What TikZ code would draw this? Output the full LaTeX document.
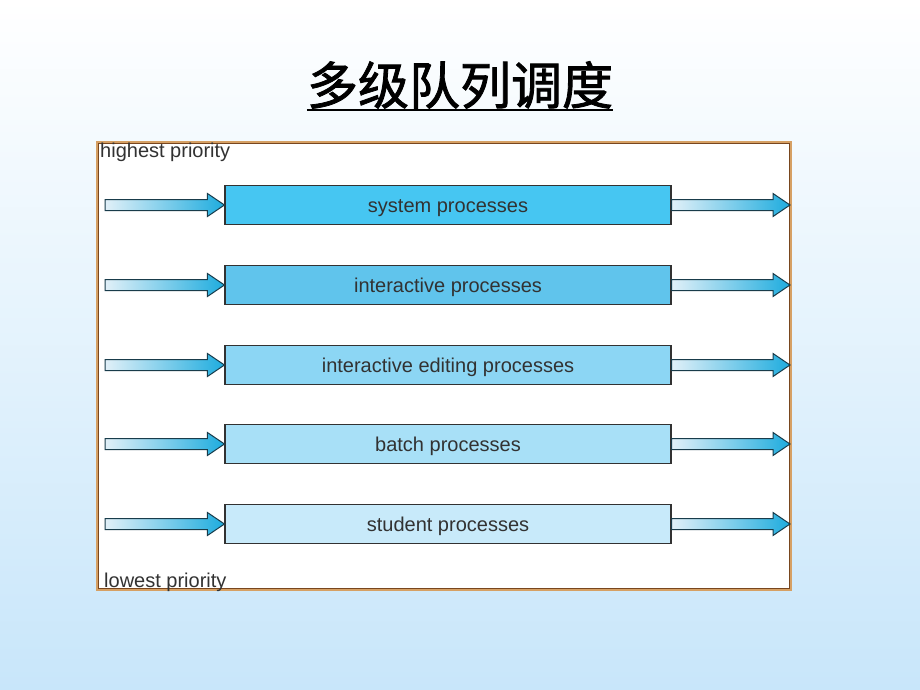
\documentclass[tikz,border=0pt]{standalone}
\usepackage{fontspec}
\setmainfont{Liberation Sans}
\newfontfamily\cjk{Noto Sans CJK SC}[FakeBold=1.6]
\usetikzlibrary{calc}
\definecolor{bgblue}{RGB}{200,230,250}
\definecolor{frametan}{RGB}{214,160,100}
\definecolor{framebrown}{RGB}{120,70,30}
\definecolor{cA}{RGB}{70,198,242}
\definecolor{cB}{RGB}{96,196,236}
\definecolor{cC}{RGB}{140,214,244}
\definecolor{cD}{RGB}{168,224,247}
\definecolor{cE}{RGB}{200,234,250}
\definecolor{arrlight}{RGB}{225,240,248}
\definecolor{arrdark}{RGB}{30,172,222}
\definecolor{arredge}{RGB}{25,60,75}
\definecolor{txt}{RGB}{50,50,50}
\newcommand\fatarrow[2]{%
  \shadedraw[fatarr] ($(#1)+(0,-5.5)$) -- ($(#2)+(-17,-5.5)$) -- ($(#2)+(-17,-11.5)$) -- (#2)
    -- ($(#2)+(-17,11.5)$) -- ($(#2)+(-17,5.5)$) -- ($(#1)+(0,5.5)$) -- cycle;}
\begin{document}
\begin{tikzpicture}[x=1pt,y=-1pt,
  qbox/.style={draw=txt, line width=1.1pt, minimum width=446pt, minimum height=39pt,
    inner sep=0pt, text height=15pt, text depth=1pt, text=txt, font=\fontsize{20}{23}\selectfont},
  lbl/.style={inner sep=0pt, text=txt, font=\fontsize{20}{23}\selectfont},
  fatarr/.style={draw=arredge, line width=1pt, left color=arrlight, right color=arrdark, line join=miter}]
\useasboundingbox (0,0) rectangle (920,690);
\shade[top color=white, bottom color=bgblue] (0,0) rectangle (920,690);
\fill[white] (97,142) rectangle (791,590);
\draw[frametan, line width=2.5pt] (97,142) rectangle (791,590);
\draw[framebrown, line width=0.8pt] (98.5,143.5) rectangle (789.5,588.5);
\node[inner sep=0pt, font=\cjk\fontsize{51}{56}\selectfont] (title) at (460,85) {多级队列调度};
\draw[line width=2.8pt] ($(title.south west)+(0,1)$) -- ($(title.south east)+(0,1)$);
\node[lbl, anchor=base west] (hi) at (100,157) {highest priority};
\node[lbl, anchor=base west] (lo) at (104,587) {lowest priority};
\node[qbox, fill=cA] (q1) at (448,205) {system processes};
\node[qbox, fill=cB] (q2) at (448,285) {interactive processes};
\node[qbox, fill=cC] (q3) at (448,365) {interactive editing processes};
\node[qbox, fill=cD] (q4) at (448,444) {batch processes};
\node[qbox, fill=cE] (q5) at (448,524) {student processes};
\foreach \i/\y in {1/205,2/285,3/365,4/444,5/524}{
  \coordinate (l\i) at (105,\y);
  \coordinate (r\i) at (790,\y);
  \fatarrow{l\i}{q\i.west}
  \fatarrow{q\i.east}{r\i}
}
\end{tikzpicture}
\end{document}
